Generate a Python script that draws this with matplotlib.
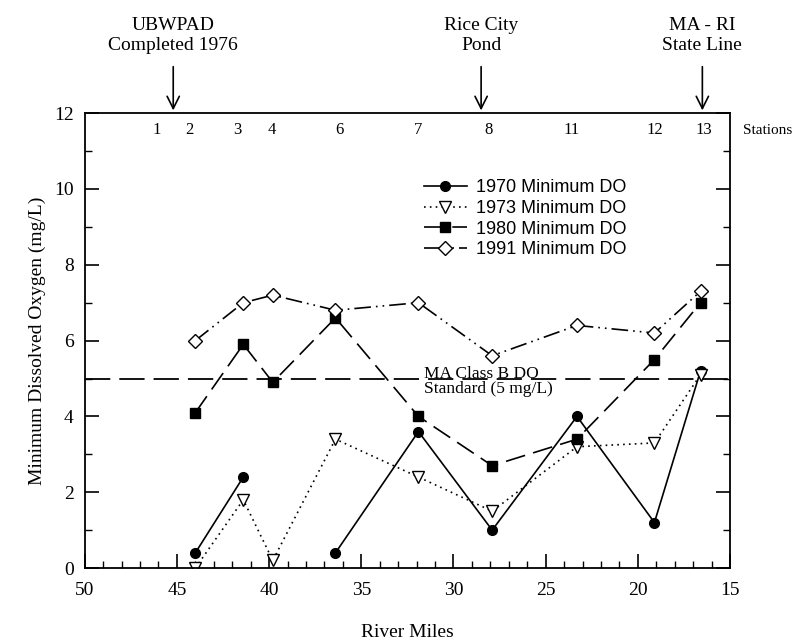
import matplotlib.pyplot as plt
import numpy as np
from matplotlib.ticker import MultipleLocator

# River miles of the sampling points
miles = [44.0, 41.4, 39.8, 36.4, 31.9, 27.9, 23.3, 19.1, 16.6]

do_1970 = [0.4, 2.4, np.nan, 0.4, 3.6, 1.0, 4.0, 1.2, 5.2]
do_1973 = [0.0, 1.8, 0.2, 3.4, 2.4, 1.5, 3.2, 3.3, 5.1]
do_1980 = [4.1, 5.9, 4.9, 6.6, 4.0, 2.7, 3.4, 5.5, 7.0]
do_1991 = [6.0, 7.0, 7.2, 6.8, 7.0, 5.6, 6.4, 6.2, 7.3]

station_labels = ["1", "2", "3", "4", "6", "7", "8", "11", "12", "13"]
station_miles = [46.1, 44.3, 41.7, 39.85, 36.2, 31.9, 28.1, 23.6, 19.1, 16.4]

landmarks = ["UBWPAD\nCompleted 1976", "Rice City\nPond", "MA - RI\nState Line"]
landmark_miles = [45.2, 28.5, 16.5]

standard_do = 5.0

serif = "Liberation Serif"
sans = "Liberation Sans"

fig = plt.figure(figsize=(8.07, 6.43), dpi=100)
ax = fig.add_axes([0.105, 0.1166, 0.7996, 0.7074])

ax.plot(miles, do_1970, color="black", linestyle="-", linewidth=1.2,
        marker="o", markersize=7, markerfacecolor="black",
        label="1970 Minimum DO")
ax.plot(miles, do_1973, color="black", linestyle=(0, (1, 2.5)), linewidth=1.2,
        marker="v", markersize=8, markerfacecolor="white",
        label="1973 Minimum DO")
ax.plot(miles, do_1980, color="black", linestyle=(0, (12, 5)), linewidth=1.2,
        marker="s", markersize=7, markerfacecolor="black",
        label="1980 Minimum DO")
ax.plot(miles, do_1991, color="black", linestyle=(0, (10, 3, 1, 3, 1, 3)), linewidth=1.2,
        marker="D", markersize=7, markerfacecolor="white",
        label="1991 Minimum DO")

# Class B standard
ax.axhline(standard_do, color="black", linestyle=(0, (14, 5)), linewidth=1.3)
ax.text(31.6, standard_do - 0.5, "MA Class B DO\nStandard (5 mg/L)",
        family=serif, fontsize=12.5, ha="left", va="bottom", linespacing=0.95)

ax.set_xlim(50, 15)
ax.set_ylim(0, 12)
ax.xaxis.set_major_locator(MultipleLocator(5))
ax.xaxis.set_minor_locator(MultipleLocator(1))
ax.yaxis.set_major_locator(MultipleLocator(2))
ax.yaxis.set_minor_locator(MultipleLocator(1))
ax.tick_params(which="both", direction="in", right=True, top=False)
ax.tick_params(which="major", length=10, width=1.2, labelsize=14)
ax.tick_params(axis="x", which="major", pad=10)
ax.tick_params(axis="y", which="major", pad=8)
ax.tick_params(which="minor", length=5, width=1)
for lab in ax.get_xticklabels() + ax.get_yticklabels():
    lab.set_family(serif)
for s in ax.spines.values():
    s.set_linewidth(1.3)

ax.set_xlabel("River Miles", family=serif, fontsize=14, labelpad=18)
ax.set_ylabel("Minimum Dissolved Oxygen (mg/L)", family=serif, fontsize=14, labelpad=6)

# Station numbers along the top
for lab, m in zip(station_labels, station_miles):
    ax.text(m, 11.55, lab, family=serif, fontsize=12, ha="center", va="center")
ax.text(1.02, 11.55 / 12, "Stations", transform=ax.transAxes,
        family=serif, fontsize=11, ha="left", va="center")

# Landmark arrows above the plot
for lab, m in zip(landmarks, landmark_miles):
    ax.annotate("", xy=(m, 12), xytext=(m, 13.3), annotation_clip=False,
                arrowprops=dict(arrowstyle="->", color="black", lw=1.2,
                                mutation_scale=22))
    ax.text(m, 13.55, lab, family=serif, fontsize=14, ha="center", va="bottom",
            linespacing=1.25, clip_on=False)

leg = ax.legend(loc="upper left", bbox_to_anchor=(0.5, 0.89), frameon=False,
                prop={"family": sans, "size": 13}, handlelength=2.4,
                labelspacing=0.2, handletextpad=0.5)

fig.savefig("out.png", dpi=100)
